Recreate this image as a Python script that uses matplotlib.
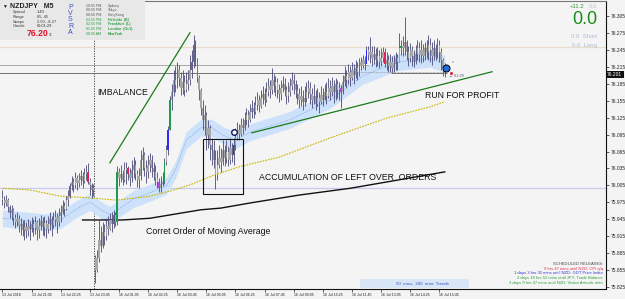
import matplotlib
matplotlib.use("Agg")
import matplotlib.pyplot as plt
from matplotlib.patches import Rectangle
import numpy as np

W, H = 625, 299
BASE = 76.0  # prices below are stored in points (0.001) relative to 76.000

# ---- candles (M5 bars), points relative to 76.000 ----
first_open_pts = -17
gap_open_pts = -123          # Monday open after the weekend gap
gap_bar = 51

close_pts = [
    -21, -26, -21, -33, -44, -38, -53, -60, -54, -67, -63, -74, -69, -76, -67, -72,
    -63, -70, -60, -74, -67, -58, -69, -61, -72, -63, -54, -65, -56, -51, -60, -49,
    -42, -31, -37, -21, -14, 4, 11, 6, 18, 9, 15, 22, 13, 25, 29, 11,
    6, -3, 0, -145, -123, -92, -102, -77, -84, -67, -72, -56, -63, -47, -60, 29,
    18, 25, 15, 32, 36, 25, 18, 32, 41, 25, 15, 22, 50, 59, 36, 29,
    41, 50, 36, 29, 18, 11, 0, 7, 11, 46, 68, 103, 156, 170, 191, 183,
    209, 195, 177, 188, 174, 184, 191, 209, 223, 253, 223, 195, 174, 142, 121, 130,
    94, 107, 76, 68, 50, 23, 41, 53, 46, 68, 53, 64, 50, 71, 59, 76,
    89, 103, 96, 112, 107, 121, 130, 121, 135, 142, 135, 147, 156, 145, 160, 167,
    156, 170, 181, 174, 191, 181, 188, 174, 167, 177, 184, 174, 163, 170, 181, 191,
    184, 174, 167, 156, 163, 153, 160, 170, 177, 167, 156, 163, 149, 160, 153, 165,
    156, 170, 163, 177, 170, 181, 170, 184, 174, 177, 170, 188, 199, 191, 206, 195,
    209, 200, 213, 206, 223, 216, 227, 220, 245, 236, 241, 230, 237, 227, 234, 223,
    230, 241, 220, 227, 216, 223, 213, 220, 230, 223, 248, 252, 248, 259, 241, 230,
    245, 234, 223, 237, 248, 236, 245, 234, 248, 241, 253, 245, 234, 248, 232, 253,
    241, 227, 213, 202,
]
high_pts = [
    -3, -14, -12, -17, -30, -30, -35, -46, -42, -47, -53, -56, -56, -60, -54, -58,
    -51, -54, -49, -56, -53, -47, -51, -49, -56, -49, -42, -49, -42, -38, -44, -35,
    -30, -21, -24, -14, -3, 9, 22, 18, 29, 23, 27, 32, 29, 36, 41, 45,
    18, 9, 7, -118, -109, -56, -67, -60, -63, -53, -49, -44, -42, -38, -42, 39,
    36, 41, 32, 46, 46, 39, 36, 50, 55, 50, 32, 36, 68, 73, 64, 50,
    59, 62, 59, 46, 41, 29, 18, 22, 29, 53, 76, 110, 163, 184, 209, 216,
    223, 218, 206, 209, 200, 206, 209, 236, 245, 271, 262, 230, 200, 177, 156, 147,
    135, 121, 112, 89, 85, 68, 68, 76, 71, 85, 76, 85, 75, 89, 80, 89,
    107, 117, 114, 124, 124, 135, 142, 138, 149, 156, 153, 163, 170, 165, 174, 181,
    177, 188, 195, 191, 213, 202, 199, 195, 184, 191, 199, 195, 181, 188, 195, 206,
    202, 191, 184, 177, 181, 174, 181, 188, 191, 188, 177, 184, 174, 177, 170, 181,
    177, 184, 188, 195, 191, 197, 191, 195, 191, 188, 183, 200, 216, 209, 220, 216,
    223, 220, 227, 223, 230, 232, 236, 234, 252, 252, 268, 252, 252, 248, 250, 245,
    248, 250, 248, 241, 236, 237, 234, 236, 241, 237, 275, 262, 269, 303, 262, 252,
    257, 252, 245, 253, 262, 259, 262, 255, 259, 262, 271, 266, 259, 262, 255, 266,
    262, 248, 230, 222,
]
low_pts = [
    -30, -35, -31, -42, -53, -56, -65, -70, -67, -77, -83, -84, -92, -88, -84, -92,
    -77, -84, -81, -92, -88, -74, -83, -84, -88, -79, -74, -84, -70, -67, -79, -67,
    -60, -46, -49, -38, -31, -17, -3, -7, 0, -3, 2, 6, 0, 9, 15, 7,
    -12, -17, -14, -168, -148, -130, -113, -106, -100, -92, -83, -74, -77, -70, -67, -65,
    4, 11, 6, 11, 7, 15, 4, 11, 18, 15, 2, 0, 15, 32, 22, 9,
    18, 29, 20, 15, 6, 0, -7, -7, 4, 7, 41, 59, 103, 138, 163, 170,
    177, 181, 165, 167, 163, 170, 174, 183, 195, 213, 216, 188, 156, 130, 103, 94,
    68, 71, 50, 41, 36, -1, 15, 36, 29, 41, 39, 45, 39, 43, 46, 41,
    68, 85, 85, 92, 96, 103, 112, 108, 117, 124, 124, 131, 138, 135, 142, 149,
    145, 153, 163, 160, 167, 170, 163, 160, 153, 156, 170, 163, 149, 153, 163, 174,
    167, 160, 149, 142, 145, 138, 145, 153, 160, 149, 142, 149, 138, 145, 133, 149,
    145, 156, 149, 160, 156, 163, 151, 156, 160, 156, 142, 167, 181, 177, 184, 181,
    191, 184, 195, 191, 199, 209, 213, 209, 223, 227, 222, 216, 220, 214, 216, 213,
    216, 223, 214, 209, 206, 206, 204, 206, 209, 209, 223, 236, 234, 236, 227, 216,
    223, 216, 214, 220, 227, 223, 222, 223, 227, 230, 227, 223, 218, 227, 227, 230,
    223, 209, 199, 197,
]

# PVSRA volume colouring (bar index lists)
green_bars = [37, 61, 63, 89, 92, 96, 104, 105, 196, 219, 239]
red_bars = [47, 69, 106, 210]
blue_bars = [91, 127, 200]
magenta_bars = [86, 107, 186]

# ---- indicator lines read at sparse bars ----
ema50_bars = [0, 15, 32, 48, 63, 81, 92, 103, 116, 130, 152, 180, 211, 235, 243]
ema50_pts = [0, -3, -14, -17, -21, -14, -5, 6, 23, 38, 55, 89, 124, 144, 153]
ema200_bars = [44, 54, 66, 81, 109, 120, 136, 163, 191, 218, 243]
ema200_pts = [-56, -56, -56, -53, -38, -35, -26, -12, 0, 15, 29]
band_bars = [0, 10, 23, 32, 40, 48, 54, 59, 72, 81, 90, 95, 101, 109, 115, 121,
             128, 136, 158, 180, 198, 217, 235, 243]
band_pts = [-53, -56, -60, -56, -38, -24, -38, -47, -19, -8, 4, 32, 85, 107, 107, 94,
            85, 99, 121, 156, 199, 223, 229, 220]
band_half = 15

x_labels = ["13 Jul 2018", "13 Jul 21:05", "13 Jul 22:25", "13 Jul 23:45",
            "16 Jul 01:05", "16 Jul 02:25", "16 Jul 03:45", "16 Jul 05:05",
            "16 Jul 06:25", "16 Jul 07:45", "16 Jul 09:05", "16 Jul 10:25",
            "16 Jul 11:45", "16 Jul 13:05", "16 Jul 14:25", "16 Jul 15:45"]
y_ticks = [75.825 + 0.03 * k for k in range(17)]
last_price = 76.201

sessions = [("10:55 PM", "Sydney"), ("09:55 PM", "Tokyo"), ("08:55 PM", "HongKong"),
            ("03:55 PM", "Helsinki  (B)"), ("02:55 PM", "Frankfurt  (L)"),
            ("01:55 PM", "London  (Oc1)"), ("08:55 AM", "NewYork")]
releases = [("SCHEDULED RELEASES:", "#444444"),
            ("9 hrs 47 mins until NZD: CPI q/q", "#e0304f"),
            ("1 days 3 hrs 35 mins until NZD: GDT Price Index", "#3535d0"),
            ("2 days 18 hrs 52 mins until JPY: Trade Balance", "#2e9e3a"),
            ("3 days 9 hrs 47 mins until NZD: Visitor Arrivals m/m", "#2e9e3a")]


def P(pts):
    return BASE + np.asarray(pts, dtype=float) / 1000.0


def fx(x):
    return x / W


def fy(y):
    return 1 - y / H


plt.rcParams["font.family"] = ["Liberation Sans", "DejaVu Sans"]
BG = "#f4f4f4"
fig = plt.figure(figsize=(W / 100, H / 100), dpi=100, facecolor=BG)
ax = fig.add_axes([0, 10 / H, 606 / W, 288 / H], facecolor=BG)

n = len(close_pts)
idx = np.arange(n)
c = P(close_pts)
hi = P(high_pts)
lo = P(low_pts)
o = np.empty(n)
o[0] = P(first_open_pts)
o[1:] = c[:-1]
o[gap_bar] = P(gap_open_pts)

body_col = ["#a6a6a6"] * n
for lst, col in ((green_bars, "#1f9a4a"), (red_bars, "#e0205a"),
                 (blue_bars, "#2b2bff"), (magenta_bars, "#c23ee0")):
    for i in lst:
        body_col[i] = col

# background levels
ax.axhline(76.250, color="#e8ddca", lw=0.9, zorder=1)
ax.axhline(76.000, color="#cacaf0", lw=0.9, zorder=1)
ax.hlines([P(218)], -2, 244, color="#9c9c9c", lw=0.6, zorder=1)
ax.hlines([P(204)], -2, 244, color="#5e5e5e", lw=0.6, zorder=1)
ax.axvline(gap_bar - 0.5, color="#333333", lw=0.6, ls=(0, (1.5, 1.5)), zorder=1)

# ema band and lines
bc = P(band_pts)
ax.fill_between(band_bars, bc - band_half / 1000, bc + band_half / 1000,
                color="#cde2fa", lw=0, zorder=1.5)
ax.plot(band_bars, bc, color="#7ea8e2", lw=0.5, ls=(0, (2, 1.5)), zorder=1.6)
ax.plot(ema50_bars, P(ema50_pts), color="#c9b600", lw=0.8, ls=(0, (1.5, 1)), zorder=2)
ax.plot(ema200_bars, P(ema200_pts), color="#111111", lw=1.0, zorder=2)

# candles
ax.vlines(idx, lo, hi, color="#4a4a78", lw=0.6, zorder=3)
ax.bar(idx, np.maximum(np.abs(c - o), 0.0007), bottom=np.minimum(o, c), width=0.72,
       color=body_col, lw=0, zorder=4)

# drawn objects
ax.plot([59, 103], P([45, 275]), color="#1c7a1c", lw=0.9, zorder=5)
ax.plot([137, 269], P([98, 206]), color="#1c7a1c", lw=0.9, zorder=5)
ax.add_patch(Rectangle((110, P(-10)), 22, P(87) - P(-10), fill=False,
                       ec="#111111", lw=0.8, zorder=5))
ax.plot([127.2], [P(99)], "o", ms=4, mfc="white", mec="#15155a", mew=1.0, zorder=6)
ax.hlines([P(206)], 194, 243, color="#8a8a8a", lw=0.5, ls=(0, (1, 1)), zorder=5)
ax.plot([243.7], [P(213)], "o", ms=5, mfc="#1f6fe0", mec="#111111", mew=0.8, zorder=6)
ax.plot([246.4], [P(204)], "o", ms=2.2, mfc="#e0204a", mec="none", zorder=6)

ax.set_xlim(-1.37, 331.6)
ax.set_ylim(75.822, 76.331)

# axes styling
ax.yaxis.tick_right()
ax.set_yticks(y_ticks)
ax.set_yticklabels([f"{v:.3f}" for v in y_ticks])
ax.tick_params(axis="y", labelsize=3.5, length=2, width=0.5, pad=1.5, colors="#222222")
ax.set_xticks(np.arange(0, 16 * len(x_labels), 16))
ax.set_xticklabels(x_labels)
ax.tick_params(axis="x", labelsize=2.6, length=2, width=0.5, pad=1.2, colors="#222222")
for lbl in ax.get_xticklabels():
    lbl.set_ha("left")
for s in ("right", "bottom"):
    ax.spines[s].set_color("#111111")
    ax.spines[s].set_linewidth(0.8)
ax.spines["top"].set_color("#777777")
ax.spines["left"].set_visible(False)

ax.text(1.002, last_price, "76.201", transform=ax.get_yaxis_transform(), fontsize=3.5,
        color="white", va="center", ha="left", zorder=10,
        bbox=dict(boxstyle="square,pad=0.25", fc="#111111", ec="none"))

# chart annotations
notes = [(97, 92.5, "IMBALANCE"), (425, 95, "RUN FOR PROFIT"),
         (259, 177, "ACCUMULATION OF LEFT OVER  ORDERS"),
         (146, 231, "Corret Order of Moving Average")]
for x, y, s in notes:
    fig.text(fx(x), fy(y), s, fontsize=6.3, color="#111111", va="center", ha="left")
fig.text(fx(449), fy(76), "\u2190 01:29", fontsize=2.8, color="#555555", va="center")
fig.text(fx(452), fy(64), "\u00b0", fontsize=3.5, color="#333333", va="center")

# info panel top-left
fig.patches.append(Rectangle((0, fy(40)), fx(145), 40 / H, transform=fig.transFigure,
                             fc="#e8e8e8", ec="none", zorder=1))
fig.text(fx(2), fy(6), "\u25bc", fontsize=3.5, color="#222222", va="center")
fig.text(fx(10), fy(6.5), "NZDJPY   M5", fontsize=5, weight="bold", color="#222222",
         va="center")
info = [("Spread", "1.40"), ("Range", "65, 45"), ("Swaps", "2.50, -8.27"),
        ("Candle", "00:01:29")]
for k, (a, b) in enumerate(info):
    yy = 12.3 + 4.6 * k
    fig.text(fx(13), fy(yy), a, fontsize=2.9, color="#333333", va="center")
    fig.text(fx(37), fy(yy), b, fontsize=2.9, color="#333333", va="center")
fig.text(fx(27), fy(34), "76.20", fontsize=6.2, weight="bold", color="#e0102a",
         va="center")
fig.text(fx(49), fy(35), "3", fontsize=3.2, color="#222222", va="center")
for k, ch in enumerate("PVSRA"):
    fig.text(fx(70.5), fy(7.5 + 6.2 * k), ch, fontsize=5, color="#4050c8",
             va="center", ha="center")
for k, (t, name) in enumerate(sessions):
    col = "#555555" if k < 3 else "#2aa040"
    fig.text(fx(86), fy(5.7 + 4.67 * k), t, fontsize=2.6, color=col, va="center")
    fig.text(fx(108), fy(5.7 + 4.67 * k), name, fontsize=2.6, color=col, va="center",
             weight="bold" if k >= 3 else "normal")

# top right counters
fig.text(fx(584), fy(6.5), "+11.2", fontsize=4.3, color="#2e9a2e", va="center",
         ha="right")
fig.text(fx(597), fy(6.5), "0.0", fontsize=4.3, color="#b4c2d2", va="center", ha="right")
fig.text(fx(597), fy(20), "0.0", fontsize=13, color="#1a8c1a", va="center", ha="right")
fig.text(fx(597), fy(37), "0.0  Short", fontsize=4.3, color="#aebcd0", va="center",
         ha="right")
fig.text(fx(597), fy(46), "0.0  Long", fontsize=4.3, color="#aebcd0", va="center",
         ha="right")

# scheduled releases
for k, (s, col) in enumerate(releases):
    fig.text(fx(603), fy(264 + 4.7 * k), s, fontsize=3.0, color=col, va="center",
             ha="right")

fig.patches.append(Rectangle((fx(360), fy(288)), (469 - 360) / W, 9 / H,
                             transform=fig.transFigure, fc="#d8e6f6", ec="none",
                             zorder=1))
fig.text(fx(423), fy(283.5), "50  ema,  200  ema  Trends", fontsize=3.2,
         color="#3a55c0", va="center", ha="center")

fig.savefig("out.png", dpi=100, facecolor=BG)
